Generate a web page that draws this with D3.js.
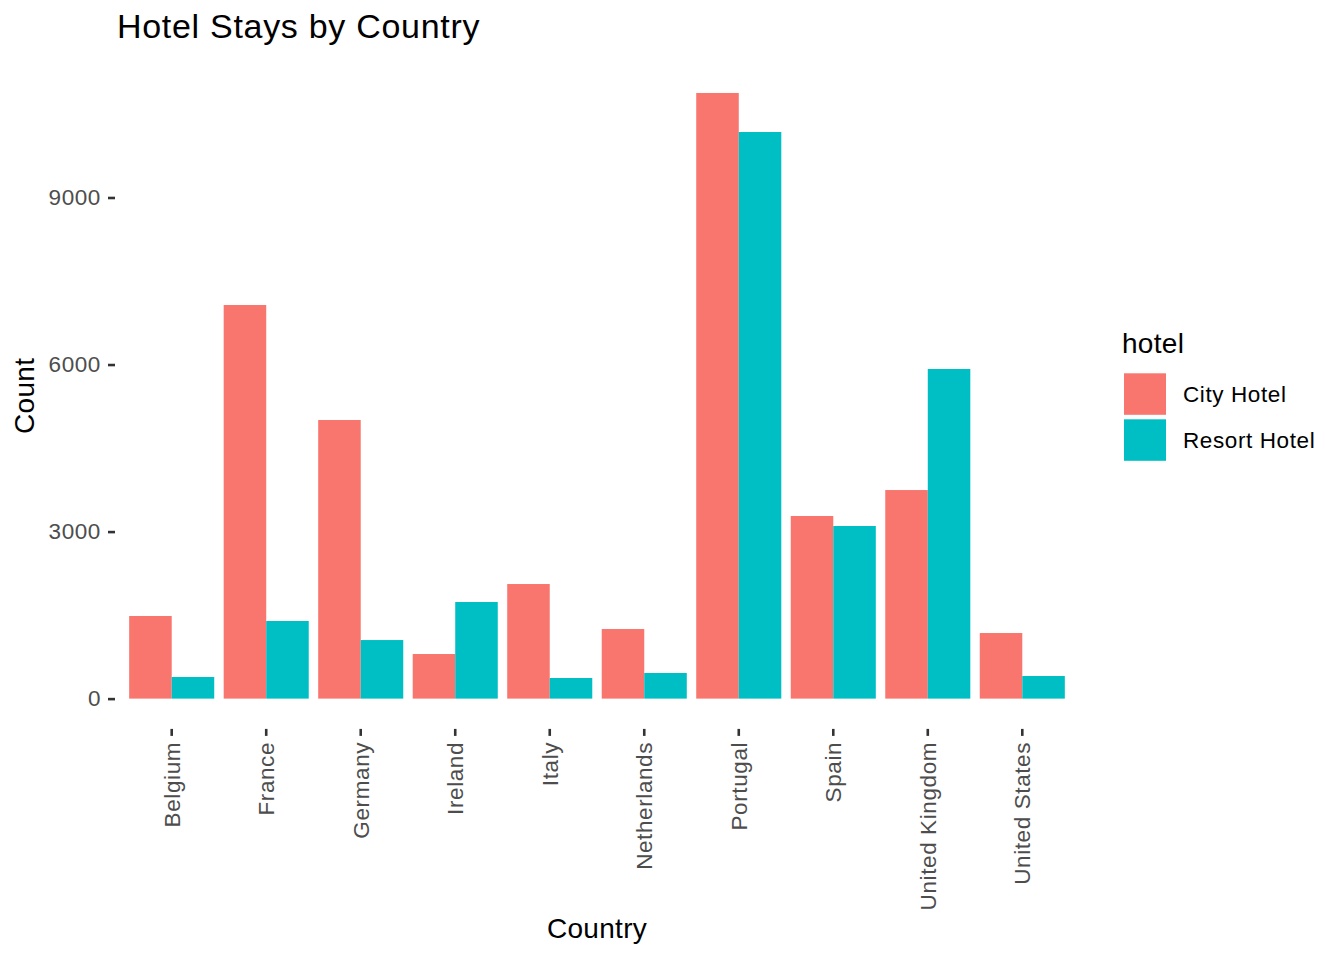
<!DOCTYPE html>
<html lang="en">
<head>
    <meta charset="UTF-8">
    <title>Hotel Stays by Country</title>
    <script src="https://d3js.org/d3.v7.min.js"></script>
    <style>
        body { margin: 0; background: #fff; }
        svg { display: block; font-family: "Liberation Sans", Arial, sans-serif; }
        .tick text { fill: #4d4d4d; font-size: 22.5px; letter-spacing: 0.6px; }
        .tick line { stroke: #333333; stroke-width: 2.6; }
    </style>
</head>
<body>
    <svg id="chart" width="1344" height="960"></svg>
    <script>
        // values
        const countries = ["Belgium", "France", "Germany", "Ireland", "Italy",
                           "Netherlands", "Portugal", "Spain", "United Kingdom", "United States"];
        const hotels = ["City Hotel", "Resort Hotel"];
        const cityHotel = [1484, 7069, 5004, 801, 2058, 1250, 10877, 3280, 3746, 1178];
        const resortHotel = [388, 1394, 1052, 1735, 370, 460, 10176, 3100, 5920, 406];
        const yTicks = [0, 3000, 6000, 9000];
        const colors = ["#F8766D", "#00BFC4"];

        const rows = countries.map((c, i) => ({
            country: c,
            values: [
                { hotel: hotels[0], count: cityHotel[i] },
                { hotel: hotels[1], count: resortHotel[i] }
            ]
        }));

        const svg = d3.select("#chart");
        const panel = { left: 115, right: 1079, top: 62.7, bottom: 728.9 };

        const yMax = d3.max(rows, r => d3.max(r.values, v => v.count));
        const y = d3.scaleLinear()
            .domain([-0.05 * yMax, 1.05 * yMax])
            .range([panel.bottom, panel.top]);

        const x = d3.scaleBand()
            .domain(countries)
            .range([panel.left, panel.right])
            .paddingInner(0.1)
            .paddingOuter(0.15);

        const xInner = d3.scaleBand()
            .domain(hotels)
            .range([0, x.bandwidth()]);

        const color = d3.scaleOrdinal().domain(hotels).range(colors);

        // bars
        svg.append("g")
            .selectAll("g")
            .data(rows)
            .join("g")
            .attr("transform", d => `translate(${x(d.country)},0)`)
            .selectAll("rect")
            .data(d => d.values)
            .join("rect")
            .attr("x", d => xInner(d.hotel))
            .attr("width", xInner.bandwidth())
            .attr("y", d => y(d.count))
            .attr("height", d => y(0) - y(d.count))
            .attr("fill", d => color(d.hotel));

        // y axis
        const yAxis = svg.append("g")
            .attr("transform", `translate(${panel.left},0)`)
            .call(d3.axisLeft(y).tickValues(yTicks).tickSize(7).tickPadding(7).tickFormat(d3.format("d")));
        yAxis.select(".domain").remove();

        // x axis
        const xAxis = svg.append("g")
            .attr("transform", `translate(0,${panel.bottom})`)
            .call(d3.axisBottom(x).tickSize(7).tickPadding(6));
        xAxis.select(".domain").remove();
        xAxis.selectAll(".tick text")
            .attr("y", 0)
            .attr("x", -13)
            .attr("dy", "0.35em")
            .attr("transform", "rotate(-90)")
            .style("text-anchor", "end");

        // titles
        svg.append("text")
            .attr("x", 117)
            .attr("y", 38)
            .attr("font-size", 34)
            .attr("letter-spacing", "0.7px")
            .attr("fill", "#000")
            .text("Hotel Stays by Country");

        svg.append("text")
            .attr("x", (panel.left + panel.right) / 2)
            .attr("y", 938)
            .attr("text-anchor", "middle")
            .attr("font-size", 28)
            .attr("letter-spacing", "0.3px")
            .text("Country");

        svg.append("text")
            .attr("transform", `translate(34,${(panel.top + panel.bottom) / 2}) rotate(-90)`)
            .attr("text-anchor", "middle")
            .attr("font-size", 28)
            .attr("letter-spacing", "0.3px")
            .text("Count");

        // legend
        const legend = svg.append("g").attr("transform", "translate(1122,0)");
        legend.append("text")
            .attr("x", 0)
            .attr("y", 353)
            .attr("font-size", 28)
            .attr("letter-spacing", "0.3px")
            .text("hotel");
        const keys = legend.selectAll("g.key")
            .data(hotels)
            .join("g")
            .attr("class", "key")
            .attr("transform", (d, i) => `translate(0,${371 + i * 46})`);
        keys.append("rect")
            .attr("x", 2)
            .attr("y", 2.3)
            .attr("width", 42)
            .attr("height", 41.5)
            .attr("fill", d => color(d));
        keys.append("text")
            .attr("x", 61)
            .attr("y", 23)
            .attr("dy", "0.35em")
            .attr("font-size", 22.5)
            .attr("letter-spacing", "0.6px")
            .text(d => d);
    </script>
</body>
</html>
